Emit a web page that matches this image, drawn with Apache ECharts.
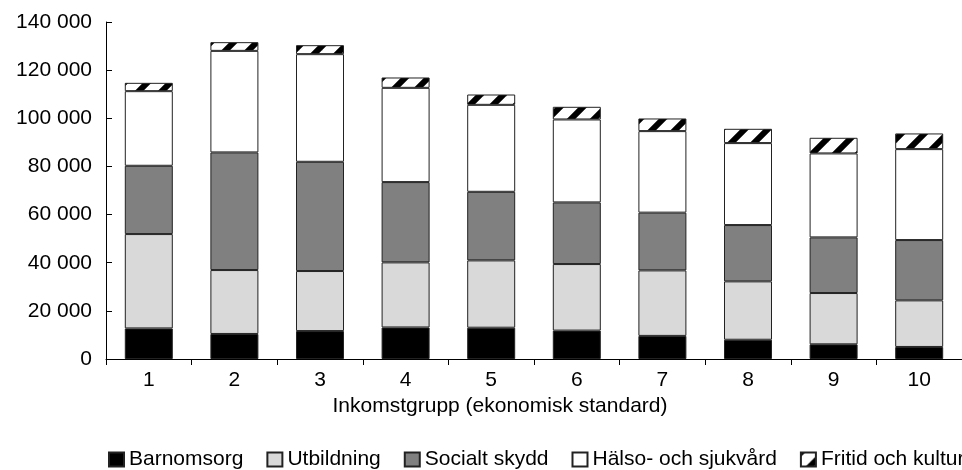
<!DOCTYPE html>
<html>
<head>
<meta charset="utf-8">
<script src="https://cdn.jsdelivr.net/npm/echarts@6/dist/echarts.min.js"></script>
<style>
  html, body { margin: 0; padding: 0; background: #fff; }
  #chart { width: 962px; height: 470px; }
</style>
</head>
<body>
<div id="chart"></div>
<script>
const categories = ["1", "2", "3", "4", "5", "6", "7", "8", "9", "10"];
const barnomsorg = [12700, 10400, 11600, 13100, 13000, 11800, 9600, 8000, 6100, 5000];
const utbildning = [39200, 26550, 24940, 27040, 27960, 27640, 27210, 24250, 21300, 19360];
const socialtSkydd = [28370, 48870, 45390, 33350, 28500, 25610, 23990, 23390, 23120, 25050];
const halsoSjukvard = [31000, 42190, 44710, 39160, 36130, 34460, 33870, 34050, 34880, 37780];
const fritidKultur = [3460, 3610, 3730, 4300, 4290, 5260, 5250, 5940, 6500, 6510];

// diagonal stripes for "Fritid och kultur"
function hatch() {
  const s = 23;
  const c = document.createElement("canvas");
  c.width = s; c.height = s;
  const ctx = c.getContext("2d");
  ctx.fillStyle = "#fff";
  ctx.fillRect(0, 0, s, s);
  ctx.strokeStyle = "#000";
  ctx.lineWidth = 6;
  for (let k = -1; k <= 1; k++) {
    ctx.beginPath();
    ctx.moveTo(k * s - 4, s + 4);
    ctx.lineTo(k * s + s + 4, -4);
    ctx.stroke();
  }
  return c;
}

const font = "Liberation Sans, Arial, sans-serif";

function bar(name, data, color) {
  return {
    name: name,
    type: "bar",
    stack: "total",
    data: data,
    barWidth: 48,
    itemStyle: { color: color, borderColor: "#222", borderWidth: 1 }
  };
}

const chart = echarts.init(document.getElementById("chart"));
chart.setOption({
  animation: false,
  grid: { left: 106, right: -11, top: 22, bottom: 111 },
  legend: {
    left: 103,
    bottom: -5,
    width: 1400,
    itemWidth: 15,
    itemHeight: 14,
    itemGap: 23,
    textStyle: { fontFamily: font, fontSize: 21, color: "#000" },
    icon: "rect"
  },
  xAxis: {
    type: "category",
    data: categories,
    name: "Inkomstgrupp (ekonomisk standard)",
    nameLocation: "middle",
    nameGap: 37,
    nameTextStyle: { fontFamily: font, fontSize: 21, color: "#000", padding: [0, 68, 0, 0] },
    axisLine: { lineStyle: { color: "#000", width: 1 } },
    axisTick: { show: true, length: 6, lineStyle: { color: "#000" } },
    axisLabel: { fontFamily: font, fontSize: 21, color: "#000", margin: 11 }
  },
  yAxis: {
    type: "value",
    min: 0,
    max: 140000,
    interval: 20000,
    axisLine: { show: true, lineStyle: { color: "#000", width: 1 } },
    axisTick: { show: true, inside: true, length: 6, lineStyle: { color: "#000" } },
    splitLine: { show: false },
    axisLabel: {
      fontFamily: font, fontSize: 21, color: "#000", margin: 14,
      formatter: v => String(v).replace(/\B(?=(\d{3})+(?!\d))/g, " ")
    }
  },
  series: [
    bar("Barnomsorg", barnomsorg, "#000"),
    bar("Utbildning", utbildning, "#d9d9d9"),
    bar("Socialt skydd", socialtSkydd, "#808080"),
    bar("Hälso- och sjukvård", halsoSjukvard, "#fff"),
    bar("Fritid och kultur", fritidKultur, { image: hatch(), repeat: "repeat" })
  ]
});
</script>
</body>
</html>
